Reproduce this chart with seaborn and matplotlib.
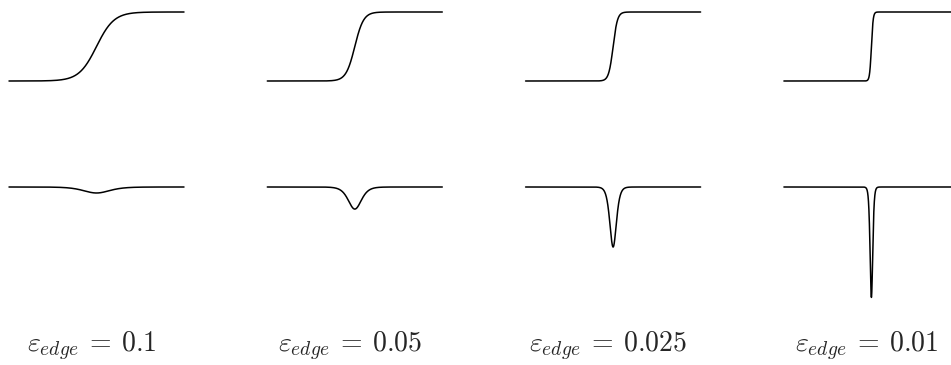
import numpy as np
import matplotlib
matplotlib.use("Agg")
import matplotlib.pyplot as plt
import seaborn as sns

# Edge widths shown in the four columns and the depth of each edge dip
eps_edge = [0.1, 0.05, 0.025, 0.01]
eps_labels = ["0.1", "0.05", "0.025", "0.01"]
dip_depth = [0.087, 0.32, 0.87, 1.6]

sns.set_style("white")
plt.rcParams["mathtext.fontset"] = "cm"

W, H = 951, 365
fig = plt.figure(figsize=(W / 100, H / 100), dpi=100)

x = np.linspace(-0.5, 0.5, 4001)
left0, col_step, width = 9, 258.3, 175
top_y0, top_y1 = 12, 81          # pixel rows of levels 1 and 0 in the top row
unit = top_y1 - top_y0
bottom_base = 187                # pixel row of level 0 in the bottom row
bottom_span = 1.7


def px_axes(x0, y_top, w, h):
    return fig.add_axes([x0 / W, 1 - (y_top + h) / H, w / W, h / H])


for i, (eps, lab, depth) in enumerate(zip(eps_edge, eps_labels, dip_depth)):
    x0 = left0 + i * col_step

    # smoothed step
    ax_top = px_axes(x0, top_y0, width, unit)
    step_vals = 0.5 * (1 + np.tanh(x / eps))
    sns.lineplot(x=x, y=step_vals, ax=ax_top, color="black", lw=1.1,
                 clip_on=False, sort=False)
    ax_top.set_xlim(-0.5, 0.5)
    ax_top.set_ylim(0, 1)
    ax_top.axis("off")

    # edge indicator dip
    ax_bot = px_axes(x0, bottom_base, width, bottom_span * unit)
    dip_vals = -depth / np.cosh(x / eps) ** 2
    sns.lineplot(x=x, y=dip_vals, ax=ax_bot, color="black", lw=1.1,
                 clip_on=False, sort=False)
    ax_bot.set_xlim(-0.5, 0.5)
    ax_bot.set_ylim(-bottom_span, 0)
    ax_bot.axis("off")

    fig.text((x0 + width / 2 - 5) / W, 1 - 346 / H,
             rf"$\varepsilon_{{edge}}\:=\:{lab}$",
             ha="center", va="center", fontsize=20)

fig.savefig("out.png", dpi=100)
